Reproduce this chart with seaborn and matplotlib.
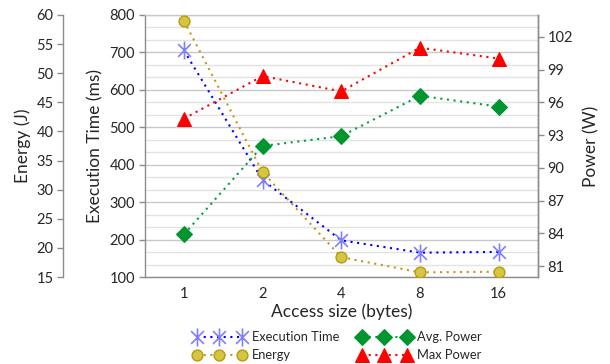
import numpy as np
import pandas as pd
import matplotlib
matplotlib.use("Agg")
import matplotlib.pyplot as plt
from matplotlib.path import Path
from matplotlib.ticker import MultipleLocator
import seaborn as sns

# ---- data ----
access_sizes = ["1", "2", "4", "8", "16"]
exec_time_ms = [705, 359, 198, 165, 167]
energy_j = [59.0, 33.0, 18.4, 15.8, 15.9]
avg_power_w = [83.9, 92.0, 92.9, 96.6, 95.6]
max_power_w = [94.5, 98.4, 97.0, 101.0, 100.0]

df = pd.DataFrame({
    "pos": np.arange(len(access_sizes)),
    "size": access_sizes,
    "exec": exec_time_ms,
    "energy": energy_j,
    "avg": avg_power_w,
    "max": max_power_w,
})

sns.set_theme(style="white")
plt.rcParams["font.family"] = ["Lato", "DejaVu Sans"]
TXT = "#262626"
SP = "#8c8c8c"

fig = plt.figure(figsize=(6.1, 3.64), dpi=100)
ax = fig.add_axes([0.237, 0.239, 0.645, 0.720])
ax2 = ax.twinx()
ax3 = ax.twinx()

star = Path([(0, -1), (0, 1), (-0.707, -0.707), (0.707, 0.707),
             (-0.707, 0.707), (0.707, -0.707)],
            [Path.MOVETO, Path.LINETO, Path.MOVETO, Path.LINETO,
             Path.MOVETO, Path.LINETO])

sns.lineplot(data=df, x="pos", y="exec", ax=ax, color="#0000ff",
             lw=1.5, marker=star, markersize=13,
             markeredgecolor="#7f7fff", markeredgewidth=1.2,
             label="Execution Time", legend=False, zorder=4)
sns.lineplot(data=df, x="pos", y="energy", ax=ax3, color="#c8941e",
             lw=1.5, marker="o", markersize=7.8,
             markerfacecolor="#d4c640", markeredgecolor="#b89a10",
             markeredgewidth=1.0, label="Energy", legend=False, zorder=4)
sns.lineplot(data=df, x="pos", y="avg", ax=ax2, color="#00a040",
             lw=1.5, marker="D", markersize=8.3,
             markerfacecolor="#00952f", markeredgecolor="#00952f",
             label="Avg. Power", legend=False, zorder=4)
sns.lineplot(data=df, x="pos", y="max", ax=ax2, color="#ff0000",
             lw=1.5, marker="^", markersize=9.5,
             markerfacecolor="#ff0000", markeredgecolor="#ff0000",
             label="Max Power", legend=False, zorder=4)

for line in ax.lines + ax2.lines + ax3.lines:
    line.set_linestyle((0, (1, 2.2)))
    line.set_dash_capstyle("butt")

# main axis
ax.set_xlim(-0.5, len(access_sizes) - 0.5)
ax.set_xticks(df["pos"])
ax.set_xticklabels(access_sizes)
ax.set_ylim(100, 800)
ax.yaxis.set_major_locator(MultipleLocator(100))
ax.yaxis.set_minor_locator(MultipleLocator(100 / 3))
ax.grid(True, which="major", axis="y", color="#c8c8c8", lw=1.0)
ax.grid(True, which="minor", axis="y", color="#e3e3e3", lw=1.0)
ax.set_axisbelow(True)
ax.set_xlabel("Access size (bytes)", fontsize=12.5, color=TXT, labelpad=2)
ax.set_ylabel("Execution Time (ms)", fontsize=12.5, color=TXT, labelpad=4)

# power axis
ax2.set_ylim(80, 104)
ax2.set_yticks(np.arange(81, 103, 3))
ax2.set_ylabel("Power (W)", fontsize=12.5, color=TXT, labelpad=7)

# energy axis
ax3.set_ylim(15, 60)
ax3.yaxis.set_major_locator(MultipleLocator(5))
ax3.spines["left"].set_position(("outward", 58.5))
ax3.spines["left"].set_visible(True)
ax3.spines["right"].set_visible(False)
ax3.yaxis.set_ticks_position("left")
ax3.yaxis.set_label_position("left")
ax3.set_ylabel("Energy (J)", fontsize=12.5, color=TXT, labelpad=4)

for a in (ax, ax2, ax3):
    a.tick_params(axis="both", which="major", labelsize=10.5, colors=TXT,
                  length=4, width=1, direction="out", pad=3)
    a.tick_params(which="major", color=SP)
    a.tick_params(which="minor", length=0)
    for s in a.spines.values():
        s.set_color(SP)
        s.set_linewidth(1.0)
ax2.spines["left"].set_visible(False)
ax3.spines["top"].set_visible(False)
ax3.spines["bottom"].set_visible(False)
ax2.spines["top"].set_visible(False)
ax2.spines["bottom"].set_visible(False)
ax.spines["top"].set_visible(True)
ax.spines["top"].set_color("#c8c8c8")

handles = [ax.lines[0], ax3.lines[0], ax2.lines[0], ax2.lines[1]]
labels = ["Execution Time", "Energy", "Avg. Power", "Max Power"]
fig.legend(handles, labels, loc="center", bbox_to_anchor=(0.553, 0.049),
           ncol=2, frameon=False, numpoints=3, handlelength=4.1,
           fontsize=9.3, labelcolor=TXT, columnspacing=1.4,
           handletextpad=0.5, labelspacing=0.45, borderpad=0.1)

fig.savefig("out.png", dpi=100)
